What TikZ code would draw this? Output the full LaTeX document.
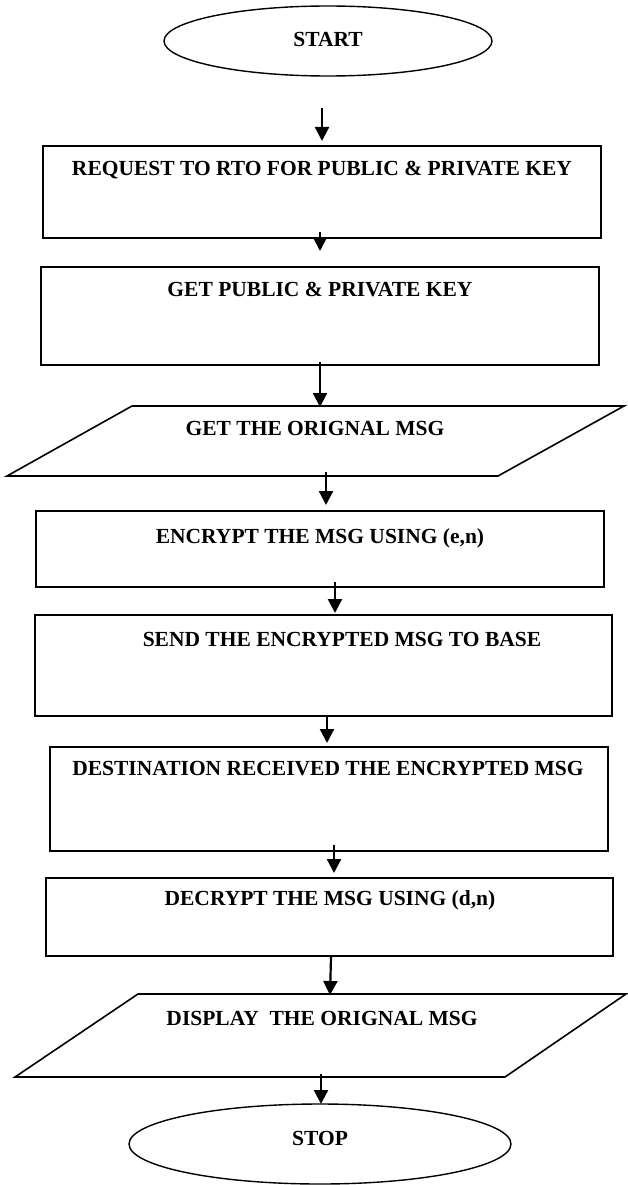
\documentclass[tikz,border=0pt]{standalone}
\usepackage{fontspec}
\setmainfont{Liberation Serif}
\usetikzlibrary{shapes.geometric,arrows.meta}
\begin{document}
\begin{tikzpicture}[x=1pt,y=-1pt,
  boxshape/.style={draw,line width=1.6pt,rectangle,inner sep=0pt},
  ovalshape/.style={draw,line width=1.4pt,ellipse,inner sep=0pt},
  slantshape/.style={draw,line width=1.6pt,line join=miter},
  lbl/.style={inner sep=0pt,font=\fontsize{21.5}{25}\selectfont\bfseries},
  arr/.style={line width=2.2pt,-{Triangle[length=14pt,width=14pt]}}]
\useasboundingbox (0,0) rectangle (627,1185);
% START
\node[ovalshape,minimum width=328pt,minimum height=70pt] (start) at (328,41) {};
\node[lbl] (tstart) at (328,39) {START};
% boxes
\node[boxshape,minimum width=558pt,minimum height=92pt] (b1) at (322,192) {};
\node[lbl] (t1) at (322,170) {REQUEST TO RTO FOR PUBLIC \& PRIVATE KEY};
\node[boxshape,minimum width=558pt,minimum height=98pt] (b2) at (320,316) {};
\node[lbl] (t2) at (320,290) {GET PUBLIC \& PRIVATE KEY};
% parallelogram 1
\coordinate (p1a) at (132,406); \coordinate (p1b) at (624,406);
\coordinate (p1c) at (498,476); \coordinate (p1d) at (7,476);
\draw[slantshape] (p1a) -- (p1b) -- (p1c) -- (p1d) -- cycle;
\node[lbl] (t3) at (315,428) {GET THE ORIGNAL MSG};
\node[boxshape,minimum width=568pt,minimum height=76pt] (b3) at (320,549) {};
\node[lbl] (t4) at (320,538) {ENCRYPT THE MSG USING (e,n)};
\node[boxshape,minimum width=577pt,minimum height=101pt] (b4) at (323.5,665.5) {};
\node[lbl] (t5) at (342,639) {SEND THE ENCRYPTED MSG TO BASE};
\node[boxshape,minimum width=558pt,minimum height=104pt] (b5) at (329,799) {};
\node[lbl] (t6) at (328,769) {DESTINATION RECEIVED THE ENCRYPTED MSG};
\node[boxshape,minimum width=567pt,minimum height=78pt] (b6) at (329.5,917) {};
\node[lbl] (t7) at (330,900) {DECRYPT THE MSG USING (d,n)};
% parallelogram 2
\coordinate (p2a) at (138,994); \coordinate (p2b) at (626,994);
\coordinate (p2c) at (505,1077); \coordinate (p2d) at (15,1077);
\draw[slantshape] (p2a) -- (p2b) -- (p2c) -- (p2d) -- cycle;
\node[lbl] (t8) at (322,1018) {DISPLAY\ \ THE ORIGNAL MSG};
% STOP
\node[ovalshape,minimum width=382pt,minimum height=80pt] (stop) at (320,1144) {};
\node[lbl] (tstop) at (320,1138) {STOP};
% arrows
\coordinate (a1s) at (322,108); \coordinate (a1e) at (322,141);
\coordinate (a2s) at (320,232); \coordinate (a2e) at (320,251);
\coordinate (a3s) at (320,362); \coordinate (a3e) at (320,407);
\coordinate (a4s) at (326,472); \coordinate (a4e) at (326,505);
\coordinate (a5s) at (335,582); \coordinate (a5e) at (335,613);
\coordinate (a6s) at (327,717); \coordinate (a6e) at (327,743);
\coordinate (a7s) at (334,845); \coordinate (a7e) at (334,873);
\coordinate (a8s) at (331,957); \coordinate (a8e) at (330,995);
\coordinate (a9s) at (321,1074); \coordinate (a9e) at (321,1104);
\draw[arr] (a1s) -- (a1e);
\draw[arr] (a2s) -- (a2e);
\draw[arr] (a3s) -- (a3e);
\draw[arr] (a4s) -- (a4e);
\draw[arr] (a5s) -- (a5e);
\draw[arr] (a6s) -- (a6e);
\draw[arr] (a7s) -- (a7e);
\draw[arr] (a8s) -- (a8e);
\draw[arr] (a9s) -- (a9e);
\end{tikzpicture}
\end{document}
